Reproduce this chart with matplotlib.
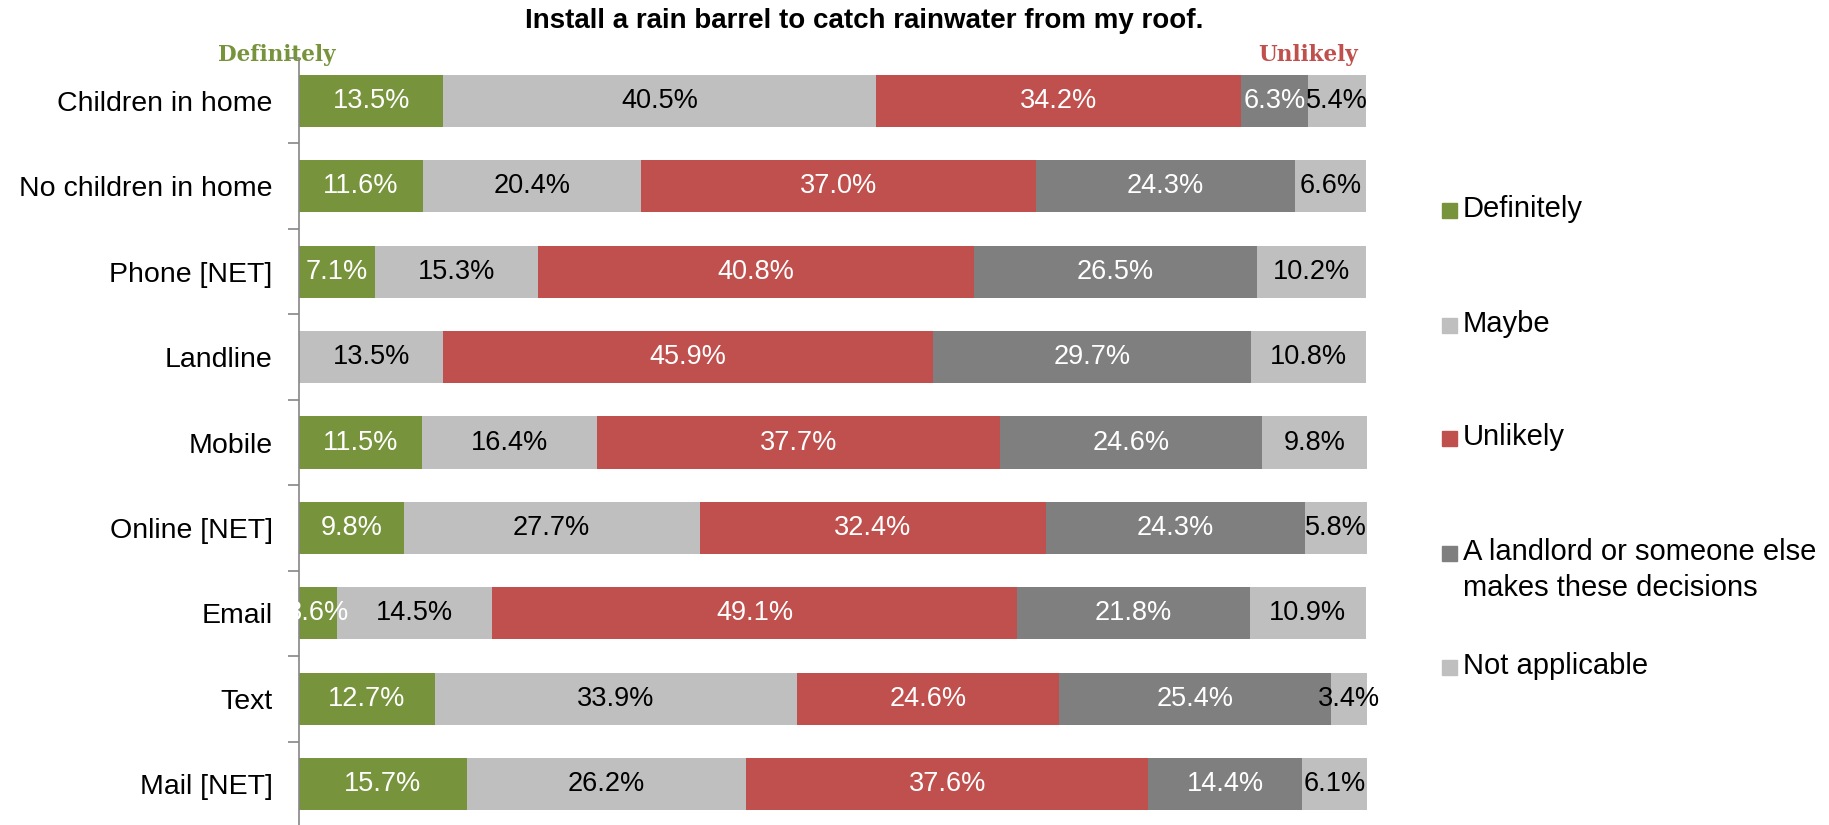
import numpy as np
import matplotlib.pyplot as plt
from matplotlib.patches import Rectangle

plt.rcParams['font.family'] = ['Liberation Sans', 'DejaVu Sans']

# Survey data (percent)
groups = ["Children in home", "No children in home", "Phone [NET]", "Landline",
          "Mobile", "Online [NET]", "Email", "Text", "Mail [NET]"]
definitely = [13.5, 11.6, 7.1, 0.0, 11.5, 9.8, 3.6, 12.7, 15.7]
maybe = [40.5, 20.4, 15.3, 13.5, 16.4, 27.7, 14.5, 33.9, 26.2]
unlikely = [34.2, 37.0, 40.8, 45.9, 37.7, 32.4, 49.1, 24.6, 37.6]
landlord = [6.3, 24.3, 26.5, 29.7, 24.6, 24.3, 21.8, 25.4, 14.4]
not_applicable = [5.4, 6.6, 10.2, 10.8, 9.8, 5.8, 10.9, 3.4, 6.1]

series_names = ["Definitely", "Maybe", "Unlikely",
                "A landlord or someone else\nmakes these decisions", "Not applicable"]
series = [definitely, maybe, unlikely, landlord, not_applicable]
colors = ["#77933C", "#BFBFBF", "#C0504D", "#7F7F7F", "#BFBFBF"]
text_colors = ["white", "black", "white", "white", "black"]

fig = plt.figure(figsize=(18.29, 8.25), dpi=100)
ax = fig.add_axes([299 / 1829, -2 / 825, 1068 / 1829, 769 / 825])

y = np.arange(len(groups))
left = np.zeros(len(groups))
for vals, col, tcol in zip(series, colors, text_colors):
    vals = np.array(vals)
    ax.barh(y, vals, left=left, height=0.61, color=col, edgecolor="none")
    for yi, v, l in zip(y, vals, left):
        if v > 0:
            ax.text(l + v / 2, yi, f"{v:.1f}%", ha="center", va="center",
                    fontsize=19.5, color=tcol)
    left = left + vals

ax.set_xlim(0, 100)
ax.set_ylim(len(groups) - 0.5, -0.5)
ax.set_yticks(y)
ax.set_yticklabels(groups, fontsize=20.5)
ax.set_yticks(np.arange(len(groups) + 1) - 0.5, minor=True)
ax.tick_params(axis="y", which="major", length=0, pad=19)
ax.tick_params(axis="y", which="minor", length=8, color="#868686", width=1.2)
ax.set_xticks([])
for s in ["top", "right", "bottom"]:
    ax.spines[s].set_visible(False)
ax.spines["left"].set_color("#868686")
ax.spines["left"].set_linewidth(1.2)

fig.text(864 / 1829, 1 - 21 / 825, "Install a rain barrel to catch rainwater from my roof.",
         ha="center", va="center", fontsize=20, fontweight="bold")
fig.text(277 / 1829, 1 - 55 / 825, "Definitely", ha="center", va="center",
         fontsize=15.5, fontweight="bold", color="#77933C", family="DejaVu Serif")
fig.text(1308 / 1829, 1 - 55 / 825, "Unlikely", ha="center", va="center",
         fontsize=15.5, fontweight="bold", color="#C0504D", family="DejaVu Serif")

# legend drawn by hand to match the spacing
legend_y = [210, 325, 438, 553, 667]
for name, col, ly in zip(series_names, colors, legend_y):
    fig.patches.append(Rectangle((1442 / 1829, 1 - (ly + 7.5) / 825), 15 / 1829, 15 / 825,
                                 transform=fig.transFigure, color=col))
    fig.text(1463 / 1829, 1 - (ly - 15) / 825, name, ha="left", va="top",
             fontsize=21, linespacing=1.38)

plt.savefig("out.png")
